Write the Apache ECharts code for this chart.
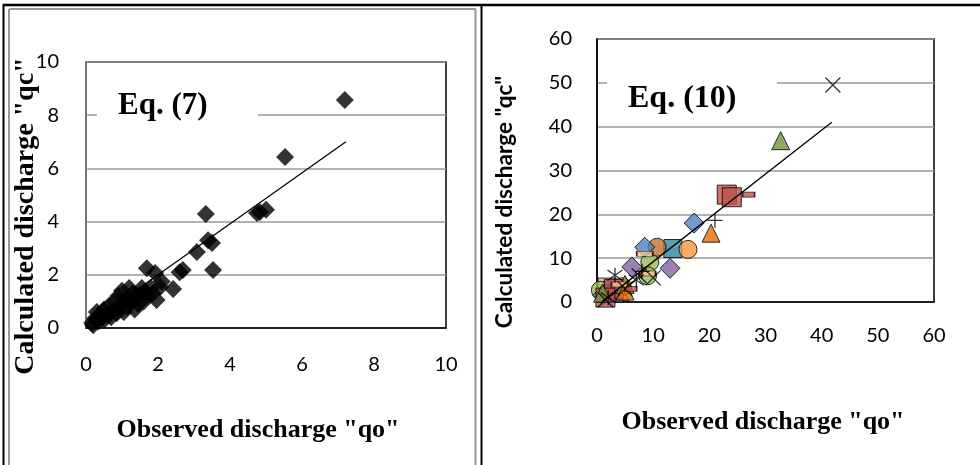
<!DOCTYPE html>
<html>
<head>
<meta charset="utf-8">
<script src="https://cdn.jsdelivr.net/npm/echarts@6/dist/echarts.min.js"></script>
<style>
  html, body { margin: 0; padding: 0; background: #fff; }
  #chart { width: 980px; height: 465px; }
</style>
</head>
<body>
<div id="chart"></div>
<script>
// axis ticks
const leftTicks = [0, 2, 4, 6, 8, 10];
const rightTicks = [0, 10, 20, 30, 40, 50, 60];

// Eq. (7): observed vs calculated
const eq7Points = [
  [0.17, 0.19], [0.2, 0.1], [0.25, 0.35], [0.3, 0.6], [0.35, 0.25], [0.4, 0.5],
  [0.45, 0.4], [0.5, 0.3], [0.5, 0.7], [0.6, 0.5], [0.65, 0.85], [0.7, 0.4],
  [0.75, 0.65], [0.8, 1.0], [0.85, 0.55], [0.9, 0.75], [0.9, 1.2], [1.0, 0.9],
  [1.0, 1.4], [1.05, 0.6], [1.1, 1.1], [1.15, 0.8], [1.2, 1.5], [1.25, 1.0],
  [1.3, 1.3], [1.35, 0.7], [1.4, 1.1], [1.45, 0.9], [1.5, 1.25], [1.55, 1.5],
  [1.6, 1.0], [1.65, 1.35], [1.7, 1.2], [1.8, 1.5], [1.85, 1.3], [1.96, 1.05],
  [2.06, 1.54], [2.1, 1.75], [1.69, 2.25], [1.92, 2.07], [2.42, 1.47], [2.6, 2.1],
  [2.69, 2.18], [3.08, 2.86], [3.39, 3.3], [3.5, 3.2], [3.53, 2.18], [3.33, 4.29],
  [4.75, 4.32], [4.83, 4.36], [5.0, 4.45], [5.53, 6.43], [7.19, 8.57]
];
const eq7Trend = [[0.1, 0.18], [7.22, 7.0]];

// Eq. (10): one array per data group
const blueDiamond = [[17.3, 18], [8.5, 12.5], [1.0, 1.5], [2.5, 2.0]];
const redSquare = [[23.1, 24.5], [24.0, 23.9], [3.0, 3.0], [1.5, 1.0]];
const greenTriangle = [[32.7, 36.8], [1.0, 2.0], [5.0, 4.0]];
const blackCross = [[42, 49.5], [10, 5.5], [1.5, 0.5], [5, 3], [7.5, 6]];
const blackStar = [[3.2, 6.1], [7, 5], [2, 1]];
const orangeCircle = [[16.2, 12.0], [4.5, 3.5]];
const blackPlus = [[21, 18.6], [8, 7]];
const redDash = [[27, 24.5], [6, 3]];
const tealSquare = [[13.5, 12.2], [3, 2]];
const purpleDiamond = [[13, 7.7], [6.2, 8.0]];
const greenCircle = [[9.4, 9.1], [0.6, 2.7], [2, 2], [9, 6]];
const orangeTriangle = [[20.3, 15.7], [5, 2.5]];
const salmonDash = [[8.5, 11], [4, 4], [9, 6.5]];
const pinkSquare = [[1.8, 3.4]];
const salmonTriangle = [[4.1, 2.3]];
const lightBlueSquare = [[2.8, 2.7]];
const brownCircle = [[10.7, 12.5]];
const eq10Trend = [[1.0, 0.2], [41.8, 41.0]];

const crossPath = 'path://M0,0L10,10M10,0L0,10';
const starPath = 'path://M5,0L5,10M0,1.5L10,8.5M10,1.5L0,8.5';
const plusPath = 'path://M5,0L5,10M0,5L10,5';

function pts(data, symbol, size, color) {
  return {
    type: 'scatter', xAxisIndex: 1, yAxisIndex: 1, data: data,
    symbol: symbol, symbolSize: size,
    itemStyle: { color: color, borderColor: '#000', borderWidth: 1 }
  };
}
function strokePts(data, symbol, size) {
  return {
    type: 'scatter', xAxisIndex: 1, yAxisIndex: 1, data: data,
    symbol: symbol, symbolSize: size,
    itemStyle: { color: 'rgba(0,0,0,0)', borderColor: '#000', borderWidth: 1.3 }
  };
}

const chart = echarts.init(document.getElementById('chart'));

const tickFont = { fontFamily: 'Lato', fontSize: 20, color: '#000' };
const serifBold = 'bold 26px "Liberation Serif"';

const option = {
  animation: false,
  grid: [
    { left: 86, top: 62, width: 360, height: 266, show: true, borderColor: '#000', borderWidth: 1.5, backgroundColor: '#fff' },
    { left: 597, top: 39, width: 337, height: 263, show: true, borderColor: '#000', borderWidth: 1.5, backgroundColor: '#fff' }
  ],
  xAxis: [
    {
      gridIndex: 0, type: 'value', min: leftTicks[0], max: leftTicks[leftTicks.length - 1], interval: 2,
      axisLine: { show: true, lineStyle: { color: '#000', width: 1.5 } },
      axisTick: { show: false }, splitLine: { show: false },
      axisLabel: Object.assign({ margin: 27 }, tickFont)
    },
    {
      gridIndex: 1, type: 'value', min: rightTicks[0], max: rightTicks[rightTicks.length - 1], interval: 10,
      axisLine: { show: true, lineStyle: { color: '#000', width: 1.5 } },
      axisTick: { show: false }, splitLine: { show: false },
      axisLabel: Object.assign({ margin: 24 }, tickFont)
    }
  ],
  yAxis: [
    {
      gridIndex: 0, type: 'value', min: leftTicks[0], max: leftTicks[leftTicks.length - 1], interval: 2,
      axisLine: { show: true, lineStyle: { color: '#888', width: 1.5 } },
      axisTick: { show: false },
      splitLine: { show: true, lineStyle: { color: '#999', width: 1.5 } },
      axisLabel: Object.assign({ margin: 27 }, tickFont)
    },
    {
      gridIndex: 1, type: 'value', min: rightTicks[0], max: rightTicks[rightTicks.length - 1], interval: 10,
      axisLine: { show: true, lineStyle: { color: '#000', width: 1.5 } },
      axisTick: { show: false },
      splitLine: { show: true, lineStyle: { color: '#999', width: 1.5 } },
      axisLabel: Object.assign({ margin: 25 }, tickFont)
    }
  ],
  series: [
    {
      type: 'scatter', xAxisIndex: 0, yAxisIndex: 0, data: eq7Points,
      symbol: 'diamond', symbolSize: 18, itemStyle: { color: '#000' }
    },
    {
      type: 'line', xAxisIndex: 0, yAxisIndex: 0, data: eq7Trend, symbol: 'none',
      lineStyle: { color: '#000', width: 1.3 }, z: 3
    },
    pts(pinkSquare, 'rect', 18, '#E6B9B8'),
    pts(lightBlueSquare, 'rect', 18, '#B7DEE8'),
    pts(salmonTriangle, 'triangle', 18, '#FBC9A8'),
    pts(greenCircle, 'circle', 18, '#9BBB59'),
    pts(tealSquare, 'rect', 18, '#31859C'),
    pts(orangeCircle, 'circle', 18, '#F79646'),
    pts(brownCircle, 'circle', 18, '#C0712E'),
    pts(purpleDiamond, 'diamond', 20, '#8064A2'),
    pts(blueDiamond, 'diamond', 20, '#4F81BD'),
    pts(redSquare, 'rect', 19, '#C0504D'),
    pts(greenTriangle, 'triangle', 18, '#77933C'),
    pts(orangeTriangle, 'triangle', 18, '#E46C0A'),
    pts(redDash, 'rect', [12, 5], '#C0504D'),
    pts(salmonDash, 'rect', [16, 5], '#FAC090'),
    strokePts(blackCross, crossPath, 15),
    strokePts(blackStar, starPath, 15),
    strokePts(blackPlus, plusPath, 15),
    {
      type: 'line', xAxisIndex: 1, yAxisIndex: 1, data: eq10Trend, symbol: 'none',
      lineStyle: { color: '#000', width: 1.3 }, z: 3
    }
  ],
  graphic: [
    // page frame
    { type: 'line', shape: { x1: 3, y1: 5, x2: 980, y2: 5 }, style: { stroke: '#000', lineWidth: 2.5 } },
    { type: 'line', shape: { x1: 3.5, y1: 4, x2: 3.5, y2: 465 }, style: { stroke: '#000', lineWidth: 2 } },
    { type: 'line', shape: { x1: 9, y1: 9, x2: 9, y2: 465 }, style: { stroke: '#999', lineWidth: 2 } },
    { type: 'line', shape: { x1: 9, y1: 9, x2: 476, y2: 9 }, style: { stroke: '#999', lineWidth: 2 } },
    { type: 'line', shape: { x1: 475.5, y1: 9, x2: 475.5, y2: 465 }, style: { stroke: '#999', lineWidth: 2 } },
    { type: 'line', shape: { x1: 481.5, y1: 4, x2: 481.5, y2: 465 }, style: { stroke: '#000', lineWidth: 2 } },
    // equation labels
    { type: 'rect', z: 50, shape: { x: 97, y: 90, width: 161, height: 42 }, style: { fill: '#fff' } },
    { type: 'text', z: 51, x: 118, y: 106, style: { text: 'Eq. (7)', font: 'bold 31px "Liberation Serif"', fill: '#000', verticalAlign: 'middle' } },
    { type: 'rect', z: 50, shape: { x: 607, y: 60, width: 170, height: 56 }, style: { fill: '#fff' } },
    { type: 'text', z: 51, x: 628, y: 99, style: { text: 'Eq. (10)', font: 'bold 32px "Liberation Serif"', fill: '#000', verticalAlign: 'middle' } },
    // axis titles
    { type: 'text', x: 258, y: 430, style: { text: 'Observed discharge "qo"', font: serifBold, fill: '#000', align: 'center', verticalAlign: 'middle' } },
    { type: 'text', x: 763, y: 422, style: { text: 'Observed discharge "qo"', font: serifBold, fill: '#000', align: 'center', verticalAlign: 'middle' } },
    { type: 'text', x: 26, y: 216, rotation: Math.PI / 2, style: { text: 'Calculated discharge "qc"', font: 'bold 28px "Liberation Serif"', fill: '#000', align: 'center', verticalAlign: 'middle' } },
    { type: 'text', x: 505, y: 202, rotation: Math.PI / 2, style: { text: 'Calculated discharge "qc"', font: 'bold 22.5px Lato', fill: '#000', align: 'center', verticalAlign: 'middle' } }
  ]
};

chart.setOption(option);
</script>
</body>
</html>
